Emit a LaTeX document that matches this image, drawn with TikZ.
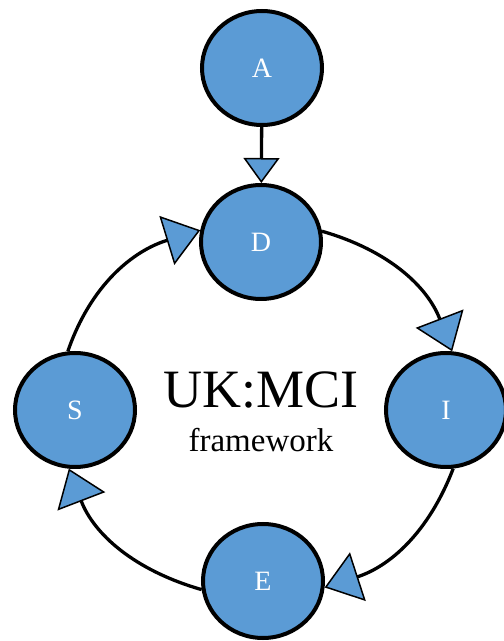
\documentclass[tikz,border=0pt]{standalone}
\usepackage{fontspec}
\setmainfont{Liberation Serif}
\usetikzlibrary{shapes.geometric,arrows.meta}
\definecolor{stageblue}{HTML}{5B9BD5}
\begin{document}
\begin{tikzpicture}[x=1pt,y=1pt,
  stage/.style={ellipse,draw=black,line width=4pt,fill=stageblue,
    minimum width=120pt,minimum height=114pt,inner sep=0pt,
    text=white,font=\fontsize{28}{28}\selectfont},
  flow/.style={line width=3.3pt,
    -{Triangle[width=51pt,length=35pt,fill=stageblue,line width=1.5pt]}},
  feed/.style={line width=3.3pt,
    -{Triangle[width=36pt,length=25pt,fill=stageblue,line width=1.5pt]}}]
\useasboundingbox (0,0) rectangle (504,641);

% stages
\node[stage] (A) at (262,573) {A};
\node[stage] (D) at (261,399) {D};
\node[stage] (S) at (75,231) {S};
\node[stage] (I) at (446,231) {I};
\node[stage] (E) at (263,60) {E};

% title in the middle of the cycle
\node[anchor=base,font=\fontsize{54}{54}\selectfont] (title) at (261,233) {UK:MCI};
\node[anchor=base,font=\fontsize{33}{33}\selectfont] (sub) at (261,189) {framework};

% connectors
\draw[feed] (A) -- (D);
\draw[flow] (D.10) to[out=-16,in=111] (I.84);
\draw[flow] (I.-83) to[out=-111,in=18] (E.-6);
\draw[flow] (E.188) to[out=164,in=-69] (S.-96);
\draw[flow] (S.97) to[out=71,in=197] (D.169);
\end{tikzpicture}
\end{document}
